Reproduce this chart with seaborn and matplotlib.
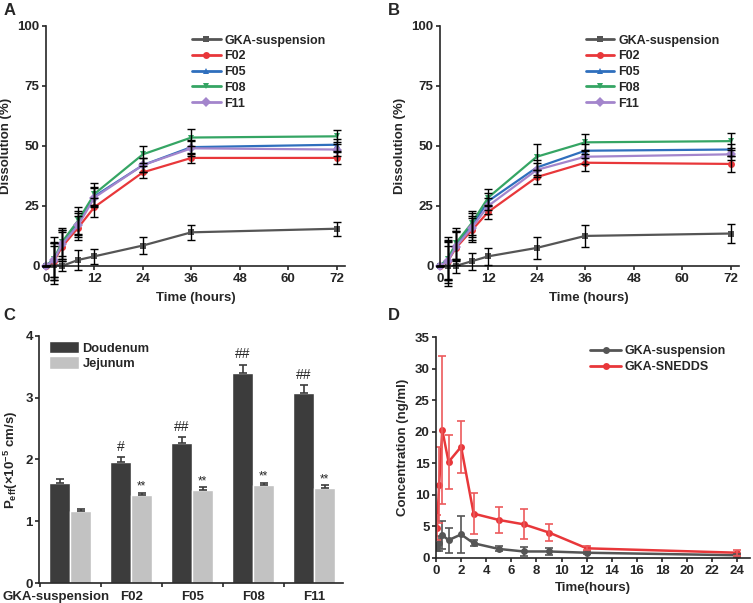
import numpy as np
import pandas as pd
import matplotlib
matplotlib.use("Agg")
import matplotlib.pyplot as plt
import matplotlib.transforms as mtransforms
import seaborn as sns

# ================================================
#  Data
# ================================================

# Panel A / B: dissolution profiles
diss_time = [0, 2, 4, 8, 12, 24, 36, 72]
formulas = ["GKA-suspension", "F02", "F05", "F08", "F11"]

diss_a = {
    "GKA-suspension": [0, 0.5, 0, 2.5, 4, 8.5, 14, 15.5],
    "F02": [0, 2, 8, 16, 24.5, 39, 45, 45],
    "F05": [0, 2.5, 9, 18, 29, 42, 49.5, 50.5],
    "F08": [0, 3, 10, 19, 30, 46.5, 53.5, 54],
    "F11": [0, 2.5, 9, 17, 28.5, 42, 49, 48.5],
}
diss_a_err = {
    "GKA-suspension": [0, 8, 2, 4, 3, 3.5, 3, 3],
    "F02": [0, 8, 6, 5, 4, 2.5, 2, 2.5],
    "F05": [0, 7, 6, 5, 4, 3, 3, 2.5],
    "F08": [0, 9, 6, 5.5, 4.5, 3.5, 3.5, 2.5],
    "F11": [0, 7, 6, 5, 4, 3, 3, 2.5],
}
diss_b = {
    "GKA-suspension": [0, 0, 0, 2, 4, 7.5, 12.5, 13.5],
    "F02": [0, 2, 7.5, 15, 22.5, 37, 43, 42.5],
    "F05": [0, 2.5, 8.5, 17, 27, 41, 48, 48.5],
    "F08": [0, 3, 9.5, 18, 28.5, 45.5, 51.5, 52],
    "F11": [0, 2, 8, 16, 25, 40, 45.5, 46.5],
}
diss_b_err = {
    "GKA-suspension": [0, 8.5, 3, 3.5, 3.5, 4.5, 4.5, 4],
    "F02": [0, 9, 7, 5, 3, 3, 3.5, 3.5],
    "F05": [0, 8, 6, 5, 3.5, 3, 3, 2.5],
    "F08": [0, 9, 6.5, 5, 3.5, 5.5, 3.5, 3.5],
    "F11": [0, 8, 6, 5, 3.5, 3, 3, 2.5],
}
diss_colors = ["#555555", "#e8373a", "#2f6fbd", "#35a564", "#a385cc"]
diss_markers = ["s", "o", "^", "v", "D"]

# Panel C: permeability
perm_groups = ["GKA-suspension", "F02", "F05", "F08", "F11"]
doudenum = [1.62, 1.96, 2.27, 3.40, 3.08]
doudenum_err = [0.07, 0.08, 0.09, 0.13, 0.12]
jejunum = [1.17, 1.42, 1.51, 1.58, 1.54]
jejunum_err = [0.03, 0.04, 0.04, 0.04, 0.04]
doud_marks = ["", "#", "##", "##", "##"]
jej_marks = ["", "**", "**", "**", "**"]

# Panel D: plasma concentration
pk_time = [0.083, 0.25, 0.5, 1, 2, 3, 5, 7, 9, 12, 24]
pk_susp = [1.7, 2.3, 3.6, 2.8, 3.7, 2.3, 1.4, 1.0, 1.0, 0.8, 0.4]
pk_susp_err = [0.6, 1.2, 2.2, 2.0, 2.9, 0.5, 0.4, 0.7, 0.6, 0.2, 0.2]
pk_sn = [4.8, 11.5, 20.3, 15.2, 17.6, 7.0, 6.0, 5.3, 4.0, 1.5, 0.8]
pk_sn_err = [2.0, 6.0, 11.7, 4.3, 4.1, 3.3, 2.0, 2.4, 1.3, 0.3, 0.5]

# ================================================
#  Style
# ================================================
sns.set_theme(style="ticks")
plt.rcParams["font.family"] = ["Liberation Sans", "DejaVu Sans"]
plt.rcParams["font.weight"] = "bold"
plt.rcParams["axes.labelweight"] = "bold"
plt.rcParams["axes.linewidth"] = 1.2
plt.rcParams["xtick.major.width"] = 1.2
plt.rcParams["ytick.major.width"] = 1.2
plt.rcParams["xtick.major.size"] = 3
plt.rcParams["ytick.major.size"] = 3
plt.rcParams["xtick.major.pad"] = 2
plt.rcParams["ytick.major.pad"] = 1.5
plt.rcParams["xtick.labelsize"] = 9.5
plt.rcParams["ytick.labelsize"] = 9.5

fig = plt.figure(figsize=(7.53, 6.03), dpi=100)

ax_a = fig.add_axes([0.061, 0.559, 0.397, 0.398])
ax_b = fig.add_axes([0.584, 0.559, 0.397, 0.398])
ax_c = fig.add_axes([0.052, 0.033, 0.404, 0.410])
ax_d = fig.add_axes([0.579, 0.075, 0.417, 0.366])


def dissolution(ax, data, err, leg_x):
    rows = []
    for f in formulas:
        for t, v in zip(diss_time, data[f]):
            rows.append({"Time": t, "Dissolution": v, "Formula": f})
    df = pd.DataFrame(rows)
    sns.lineplot(data=df, x="Time", y="Dissolution", hue="Formula", style="Formula",
                 palette=diss_colors, markers=diss_markers, dashes=False,
                 markersize=5, markeredgewidth=0, linewidth=1.6, ax=ax, clip_on=False)
    for f in formulas:
        ax.errorbar(diss_time, data[f], yerr=err[f], fmt="none", ecolor="black",
                    elinewidth=1.0, capsize=3, capthick=1.0, zorder=3, clip_on=False)
    ax.set_xlim(0, 74)
    ax.set_ylim(0, 100)
    ax.set_xticks([0, 12, 24, 36, 48, 60, 72])
    ax.set_yticks([0, 25, 50, 75, 100])
    ax.set_xlabel("Time (hours)", fontsize=9.5, labelpad=5)
    ax.set_ylabel("Dissolution (%)", fontsize=9.5, labelpad=4)
    sns.despine(ax=ax)
    leg = ax.legend(loc="upper right", bbox_to_anchor=(leg_x, 0.985), frameon=False,
                    fontsize=9, handlelength=2.3, labelspacing=0.3, handletextpad=0.3,
                    borderaxespad=0)
    for h in leg.get_lines():
        h.set_linewidth(2)


dissolution(ax_a, diss_a, diss_a_err, 0.952)
dissolution(ax_b, diss_b, diss_b_err, 0.952)

# Panel C
perm = pd.DataFrame({
    "Group": perm_groups * 2,
    "Peff": doudenum + jejunum,
    "Segment": ["Doudenum"] * 5 + ["Jejunum"] * 5,
})
sns.barplot(data=perm, x="Group", y="Peff", hue="Segment",
            palette=["#3c3c3c", "#c2c2c2"], width=0.69, errorbar=None,
            saturation=1, ax=ax_c)
pos = np.arange(len(perm_groups))
bw = 0.69 / 2
ax_c.errorbar(pos - bw / 2, doudenum, yerr=[np.zeros(5), doudenum_err], fmt="none",
              ecolor="#3c3c3c", elinewidth=1.2, capsize=3, capthick=1.2)
ax_c.errorbar(pos + bw / 2, jejunum, yerr=[np.zeros(5), jejunum_err], fmt="none",
              ecolor="#3c3c3c", elinewidth=1.2, capsize=3, capthick=1.2)
for i in range(5):
    if doud_marks[i]:
        ax_c.text(pos[i] - bw / 2, doudenum[i] + doudenum_err[i] + 0.17, doud_marks[i],
                  ha="center", va="center", fontsize=10, fontweight="normal")
    if jej_marks[i]:
        ax_c.text(pos[i] + bw / 2, jejunum[i] + jejunum_err[i] + 0.1, jej_marks[i],
                  ha="center", va="center", fontsize=8.5, fontweight="normal")
ax_c.set_xlim(-0.51, 4.48)
ax_c.set_ylim(0, 4)
ax_c.set_yticks([0, 1, 2, 3, 4])
ax_c.set_xticks(pos)
ax_c.set_xticklabels(perm_groups)
ax_c.set_xticks([-0.5, 0.5, 1.5, 2.5, 3.5], minor=True)
ax_c.tick_params(axis="x", which="major", length=0, pad=5.5)
ax_c.tick_params(axis="x", which="minor", length=3, width=1.2)
ax_c.get_xticklabels()[0].set_transform(
    ax_c.get_xticklabels()[0].get_transform()
    + mtransforms.ScaledTranslation(-14 / 100, 0, fig.dpi_scale_trans))
ax_c.set_xlabel("")
ax_c.set_ylabel(r"P$_{\mathregular{eff}}$(×10$^{\mathregular{-5}}$ cm/s)", fontsize=9.5,
                labelpad=4)
sns.despine(ax=ax_c)
ax_c.legend(loc="upper left", bbox_to_anchor=(0.015, 1.0), frameon=False, fontsize=9.3,
            handlelength=2.3, handleheight=1.1, labelspacing=0.12, handletextpad=0.3,
            borderaxespad=0)

# Panel D
pk = pd.DataFrame({
    "Time": pk_time * 2,
    "Conc": pk_susp + pk_sn,
    "Group": ["GKA-suspension"] * len(pk_time) + ["GKA-SNEDDS"] * len(pk_time),
})
sns.lineplot(data=pk, x="Time", y="Conc", hue="Group", palette=["#555555", "#e8373a"],
             marker="o", markersize=5, markeredgewidth=0, linewidth=1.8, ax=ax_d)
ax_d.errorbar(pk_time, pk_susp, yerr=pk_susp_err, fmt="none", ecolor="#555555",
              elinewidth=1.2, capsize=3, capthick=1.2)
ax_d.errorbar(pk_time, pk_sn, yerr=pk_sn_err, fmt="none", ecolor="#ec5a5c",
              elinewidth=1.2, capsize=3, capthick=1.2)
ax_d.set_xlim(0, 25)
ax_d.set_ylim(0, 35)
ax_d.set_xticks(range(0, 25, 2))
ax_d.set_yticks(range(0, 36, 5))
ax_d.set_xlabel("Time(hours)", fontsize=9.5, labelpad=4)
ax_d.set_ylabel("Concentration (ng/ml)", fontsize=9.5, labelpad=4)
sns.despine(ax=ax_d)
leg = ax_d.legend(loc="upper right", bbox_to_anchor=(0.94, 0.985), frameon=False,
                  fontsize=9, handlelength=2.5, labelspacing=0.3, handletextpad=0.3,
                  borderaxespad=0)
for h in leg.get_lines():
    h.set_linewidth(2)

for lab, x, y in [("A", 0.005, 0.995), ("B", 0.515, 0.995), ("C", 0.005, 0.49), ("D", 0.515, 0.49)]:
    fig.text(x, y, lab, fontsize=12, fontweight="bold", ha="left", va="top")

fig.savefig("out.png", dpi=100)
